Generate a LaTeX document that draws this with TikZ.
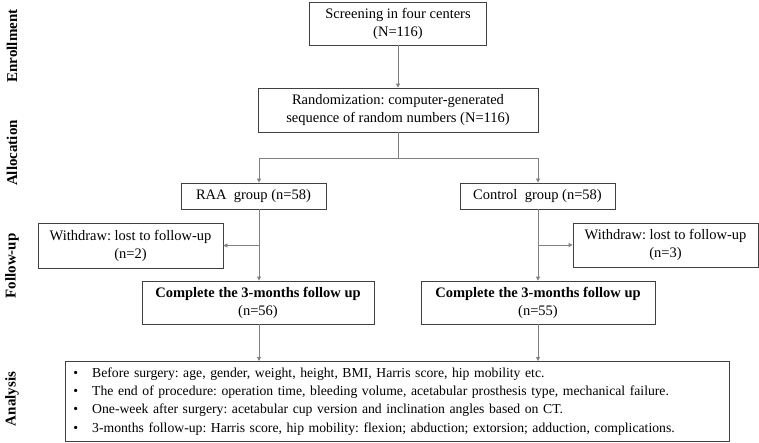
\documentclass[tikz,border=0pt]{standalone}
\usepackage{fontspec}
\setmainfont{Liberation Serif}
\usetikzlibrary{arrows.meta}
\frenchspacing
\begin{document}
\begin{tikzpicture}[x=1pt,y=-1pt,
  box/.style={draw=black!75, line width=0.8pt, align=center, inner sep=0pt, font=\fontsize{14.5}{18}\selectfont},
  conn/.style={draw=black!50, line width=0.8pt},
  arr/.style={conn, -{Triangle[length=4pt,width=4pt]}},
  phase/.style={rotate=90, font=\fontsize{15}{18}\selectfont\bfseries}]
\useasboundingbox (0,0) rectangle (759,443);

\node[phase] (pE) at (12,46) {Enrollment};
\node[phase] (pA) at (12,153) {Allocation};
\node[phase] (pF) at (12,266) {Follow-up};
\node[phase] (pN) at (12,399) {Analysis};

\node[box, minimum width=177, minimum height=43] (scr) at (398,23.5) {Screening in four centers\\(N=116)};
\node[box, minimum width=280, minimum height=44] (rand) at (398,110) {Randomization: computer-generated\\sequence of random numbers (N=116)};
\node[box, minimum width=145, minimum height=26] (raa) at (253.5,196) {RAA\ \ group (n=58)};
\node[box, minimum width=155, minimum height=26] (ctrl) at (537.5,196) {Control\ \ group (n=58)};
\node[box, minimum width=185, minimum height=45] (wl) at (130.5,245.5) {Withdraw: lost to follow-up\\(n=2)};
\node[box, minimum width=185, minimum height=44] (wr) at (665.5,245) {Withdraw: lost to follow-up\\(n=3)};
\node[box, minimum width=232, minimum height=43] (cl) at (258,302.5) {\textbf{Complete the 3-months follow up}\\(n=56)};
\node[box, minimum width=234, minimum height=43] (cr) at (538,302.5) {\textbf{Complete the 3-months follow up}\\(n=55)};
\node[box, anchor=north west, minimum width=664, minimum height=80, text width=648, inner xsep=8pt, align=left,
  font=\fontsize{13.7}{18.2}\selectfont] (ana) at (65,361) {%
\textbullet\hspace{14pt}Before surgery: age, gender, weight, height, BMI, Harris score, hip mobility etc.\\
\textbullet\hspace{14pt}The end of procedure: operation time, bleeding volume, acetabular prosthesis type, mechanical failure.\\
\textbullet\hspace{14pt}One-week after surgery: acetabular cup version and inclination angles based on CT.\\
\textbullet\hspace{14pt}3-months follow-up: Harris score, hip mobility: flexion; abduction; extorsion; adduction, complications.};

\coordinate (sp) at (398,158);
\coordinate (spl) at (259,158);
\coordinate (spr) at (538,158);

\draw[arr] (scr.south) -- (rand.north);
\draw[conn] (rand.south) -- (sp);
\draw[arr] (sp) -- (spl) -- (spl |- raa.north);
\draw[arr] (sp) -- (spr) -- (spr |- ctrl.north);
\draw[arr] (spl |- raa.south) -- (spl |- cl.north);
\draw[arr] (spr |- ctrl.south) -- (spr |- cr.north);
\draw[arr] (spl |- wl.east) -- (wl.east);
\draw[arr] (spr |- wr.west) -- (wr.west);
\draw[arr] (spl |- cl.south) -- (spl |- ana.north);
\draw[arr] (spr |- cr.south) -- (spr |- ana.north);
\end{tikzpicture}
\end{document}
